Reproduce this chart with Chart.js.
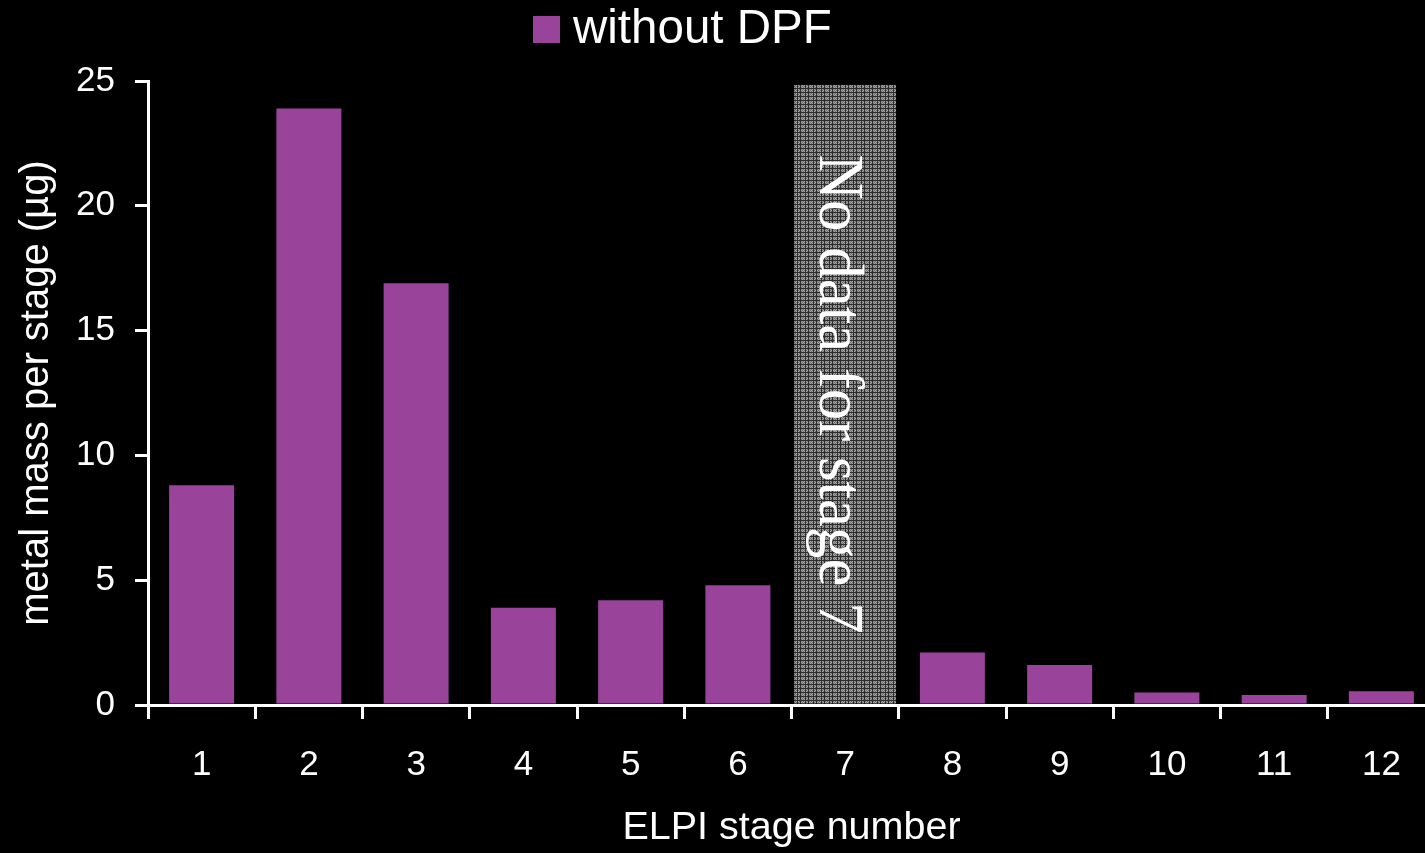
<!DOCTYPE html>
<html>
<head>
<meta charset="utf-8">
<script src="https://cdn.jsdelivr.net/npm/chart.js@4.4.0/dist/chart.umd.min.js"></script>
<style>
  html, body { margin: 0; padding: 0; background: #000; overflow: hidden; }
  #wrap { position: relative; width: 1425px; height: 853px; overflow: hidden; }
  #chart { position: absolute; left: 0; top: 0; }
  #legendBox { position: absolute; left: 533px; top: 16px; width: 27px; height: 27px; background: #99449a; }
  #legendText { position: absolute; left: 573px; top: 3px; font: 47.5px "Liberation Sans", Arial, sans-serif; line-height: 1; color: #fff; white-space: nowrap; }
</style>
</head>
<body>
<div id="wrap">
  <canvas id="chart" width="1440" height="853"></canvas>
  <div id="legendBox"></div>
  <div id="legendText">without DPF</div>
</div>
<script>
// chart data
const stages = ['1', '2', '3', '4', '5', '6', '7', '8', '9', '10', '11', '12'];
const massWithoutDPF = [8.8, 23.9, 16.9, 3.9, 4.2, 4.8, null, 2.1, 1.6, 0.5, 0.4, 0.55];
const noDataStage = [null, null, null, null, null, null, 24.85, null, null, null, null, null];
const yTicks = [0, 5, 10, 15, 20, 25];

const FONT = '"Liberation Sans", Arial, sans-serif';
Chart.defaults.font.family = FONT;
Chart.defaults.color = '#fff';

// grey plaid fill for the missing stage
function makeHatch(ctx) {
    const c = document.createElement('canvas');
    c.width = 8; c.height = 8;
    const g = c.getContext('2d');
    for (let y = 0; y < 8; y++) {
        for (let x = 0; x < 8; x++) {
            let v = ((x + y) % 2) ? 165 : 110;
            if (x === 0 || y === 0 || x === 5 || y === 4) v = 45;
            g.fillStyle = `rgb(${v},${v},${v})`;
            g.fillRect(x, y, 1, 1);
        }
    }
    return ctx.createPattern(c, 'repeat');
}

const stageNote = {
    id: 'stageNote',
    afterDatasetsDraw(chart) {
        const bar = chart.getDatasetMeta(1).data[6];
        if (!bar) return;
        const ctx = chart.ctx;
        ctx.save();
        ctx.translate(bar.x - 25, (bar.y + bar.base) / 2);
        ctx.rotate(Math.PI / 2);
        ctx.font = '63px "Liberation Serif", "Times New Roman", serif';
        ctx.fillStyle = '#fff';
        ctx.textAlign = 'center';
        ctx.textBaseline = 'alphabetic';
        ctx.fillText('No data for stage 7', 0, 0);
        ctx.restore();
    }
};

const canvas = document.getElementById('chart');
const ctx = canvas.getContext('2d');

new Chart(ctx, {
    type: 'bar',
    data: {
        labels: stages,
        datasets: [{
            label: 'without DPF',
            data: massWithoutDPF,
            backgroundColor: '#99449a',
            barPercentage: 0.606,
            categoryPercentage: 1,
            grouped: false
        }, {
            label: 'No data',
            data: noDataStage,
            backgroundColor: makeHatch(ctx),
            barPercentage: 0.95,
            categoryPercentage: 1,
            grouped: false
        }]
    },
    options: {
        responsive: false,
        animation: false,
        layout: { padding: { top: 81, right: 5, left: 0, bottom: 0 } },
        plugins: {
            legend: { display: false },
            tooltip: { enabled: false }
        },
        scales: {
            x: {
                offset: true,
                grid: { display: true, offset: true, drawOnChartArea: false, drawTicks: true, tickLength: 14, color: '#fff', lineWidth: 3 },
                border: { display: true, color: '#fff', width: 3 },
                ticks: { color: '#fff', font: { size: 35 }, padding: 25, maxRotation: 0, autoSkip: false },
                title: { display: true, text: 'ELPI stage number', color: '#fff', font: { size: 39.5 }, padding: { top: 0, bottom: 1 } },
                afterFit(scale) { scale.height = 148; }
            },
            y: {
                min: yTicks[0],
                max: yTicks[yTicks.length - 1],
                grid: { display: true, drawOnChartArea: false, drawTicks: true, tickLength: 13, color: '#fff', lineWidth: 3 },
                border: { display: true, color: '#fff', width: 3 },
                ticks: { stepSize: yTicks[1] - yTicks[0], color: '#fff', font: { size: 35 }, padding: 20 },
                title: { display: true, text: 'metal mass per stage (µg)', color: '#fff', font: { size: 40 }, padding: { top: 13, bottom: 0 } },
                afterFit(scale) { scale.width = 148; }
            }
        }
    },
    plugins: [stageNote]
});
</script>
</body>
</html>
